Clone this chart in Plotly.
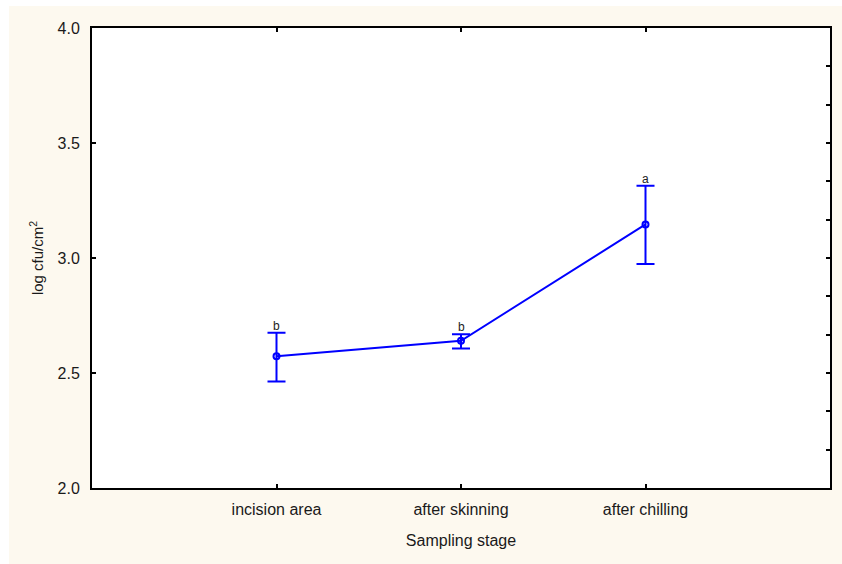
import plotly.graph_objects as go

categories = ["incision area", "after skinning", "after chilling"]
means = [2.573, 2.640, 3.146]
err_plus = [0.102, 0.028, 0.168]
err_minus = [0.110, 0.034, 0.172]
letters = ["b", "b", "a"]
y_ticks = [2.0, 2.5, 3.0, 3.5, 4.0]

xpos = list(range(len(categories)))
BLUE = "#0000FF"
FONT = "Liberation Sans, Arial, sans-serif"
TXT = "#1a1a1a"

fig = go.Figure()
fig.add_trace(go.Scatter(
    x=xpos, y=means, mode="lines+markers",
    line=dict(color=BLUE, width=2),
    marker=dict(symbol="circle-open", size=6, color=BLUE, line=dict(width=2, color=BLUE)),
    error_y=dict(type="data", symmetric=False, array=err_plus, arrayminus=err_minus,
                 color=BLUE, thickness=2, width=9),
    showlegend=False, hoverinfo="skip",
))
fig.add_trace(go.Scatter(x=[0], y=[6], yaxis="y2", mode="markers",
                         marker=dict(opacity=0), showlegend=False, hoverinfo="skip"))

for xi, m, ep, lt in zip(xpos, means, err_plus, letters):
    fig.add_annotation(x=xi, y=m + ep, text=lt, showarrow=False, yanchor="bottom",
                       xanchor="center", yshift=-2,
                       font=dict(family=FONT, size=12, color="#222222"))

fig.update_layout(
    width=842, height=564,
    margin=dict(l=92, r=12, t=28, b=76),
    paper_bgcolor="white", plot_bgcolor="white",
    font=dict(family=FONT, size=16, color=TXT),
    xaxis=dict(range=[-1, 3], tickmode="array", tickvals=xpos, ticktext=categories,
               ticks="inside", ticklen=4, tickwidth=2, tickcolor="black",
               tickfont=dict(size=16),
               showline=True, linecolor="black", linewidth=2, mirror="ticks",
               showgrid=False, zeroline=False, ticklabelstandoff=6,
               title=dict(text="Sampling stage", font=dict(size=16), standoff=18)),
    yaxis=dict(range=[2.0, 4.0], tickmode="array", tickvals=y_ticks,
               ticktext=[f"{v:.1f}" for v in y_ticks],
               ticks="inside", ticklen=4, tickwidth=2, tickcolor="black",
               tickfont=dict(size=16),
               showline=True, linecolor="black", linewidth=2,
               showgrid=False, zeroline=False, ticklabelstandoff=7,
               title=dict(text="log cfu/cm<sup>2</sup>", font=dict(size=15), standoff=10)),
    yaxis2=dict(overlaying="y", side="right", range=[0, 12], dtick=1,
                ticks="inside", ticklen=4, tickwidth=2, tickcolor="black",
                showline=True, linecolor="black", linewidth=2,
                showticklabels=False, showgrid=False, zeroline=False),
)

fig.add_shape(type="rect", xref="paper", yref="paper", layer="below",
              x0=(9 - 92) / 738, x1=(842 - 92) / 738, y0=(488 - 564) / 460, y1=(488 - 6) / 460,
              fillcolor="#FDF9EF", line=dict(width=0))
fig.add_shape(type="rect", xref="paper", yref="paper", layer="below",
              x0=0, x1=1, y0=0, y1=1, fillcolor="white", line=dict(width=0))

fig.write_html("out.html")
